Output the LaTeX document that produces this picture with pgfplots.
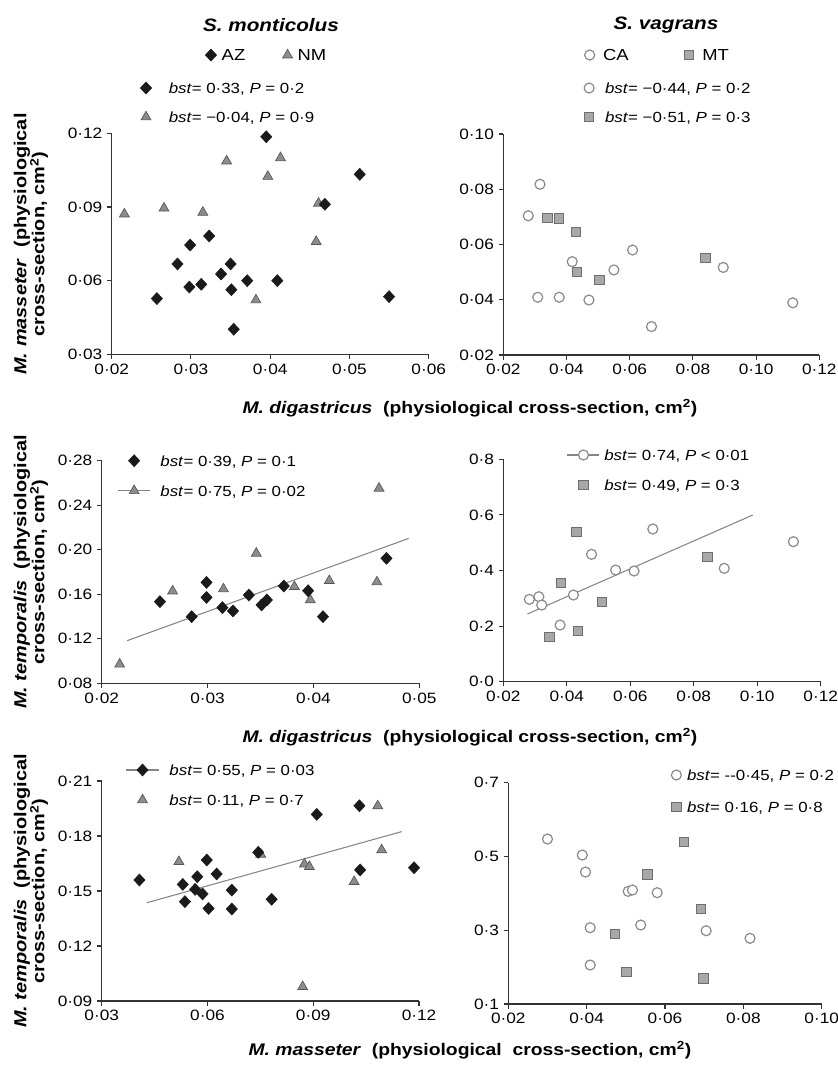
\documentclass[border=0pt]{standalone}
\usepackage{pgfplots}
\pgfplotsset{compat=1.18}
\usepackage{fontspec}
\setmainfont{Liberation Sans}[FakeStretch=1.15]

\definecolor{azc}{HTML}{1A1A1A}
\definecolor{nmfill}{HTML}{8C8C8C}
\definecolor{nmedge}{HTML}{555555}
\definecolor{caedge}{HTML}{8A8A8A}
\definecolor{mtfill}{HTML}{A8A8A8}
\definecolor{mtedge}{HTML}{6E6E6E}
\definecolor{fitline}{HTML}{858585}

\def\legL{12pt}
\pgfplotsset{
  panel/.style={
    scale only axis, anchor=south west,
    axis x line=bottom, axis y line=left,
    axis line style={-, black!80, line width=0.8pt},
    tick align=outside, major tick length=3.5pt,
    tick style={black!80, line width=0.8pt},
    scaled ticks=false,
    /pgf/number format/fixed, /pgf/number format/fixed zerofill,
    /pgf/number format/precision=2,
    /pgf/number format/set decimal separator={·},
    /pgf/number format/assume math mode=true,
    tick label style={font=\fontsize{11.25}{13}\selectfont},
    clip=false,
    legend cell align=left,
    legend style={draw=none, fill=none, inner sep=0pt,
      font=\fontsize{11}{13}\selectfont,
      nodes={inner xsep=0pt, inner ysep=1.5pt, text height=8pt, text depth=0pt}},
    legend image code/.code={\draw[mark repeat=2,mark phase=2,##1]
      plot coordinates {(-\legL,0pt)(0pt,0pt)(\legL,0pt)};},
  },
  az/.style={only marks, mark=diamond*, mark size=4.5pt,
    mark options={fill=azc, draw=azc, line width=0.4pt, xscale=1.25}},
  nm/.style={only marks, mark=triangle*, mark size=4.3pt,
    mark options={fill=nmfill, draw=nmedge, line width=0.5pt}},
  ca/.style={only marks, mark=*, mark size=3.75pt,
    mark options={fill=white, draw=caedge, line width=0.9pt}},
  mt/.style={only marks, mark=square*, mark size=3.5pt,
    mark options={fill=mtfill, draw=mtedge, line width=0.7pt}},
  fit/.style={fitline, line width=0.8pt, no marks},
}

\begin{document}
\begin{tikzpicture}
\path[use as bounding box] (0,0) rectangle (628.5pt,-798.75pt);

% ---------- top left: masseter vs digastricus, S. monticolus
\begin{axis}[panel, at={(83.78pt,-265.73pt)}, width=237.75pt, height=165.75pt,
  xmin=0.02, xmax=0.06, ymin=0.03, ymax=0.12,
  xtick={0.02,0.03,0.04,0.05,0.06}, ytick={0.03,0.06,0.09,0.12},
  legend style={at={(0.0896,1.1394)}, anchor=west, row sep=10.75pt, column sep=12.85pt}]
\addlegendimage{az}\addlegendentry{\textit{bst}= 0·33, \textit{P} = 0·2}
\addlegendimage{nm}\addlegendentry{\textit{bst}= −0·04, \textit{P} = 0·9}
\addplot[nm] coordinates {
(0.0216,0.0871) (0.0266,0.0895) (0.0315,0.0878) (0.0345,0.1087) (0.0397,0.1024)
(0.0413,0.1100) (0.0461,0.0915) (0.0458,0.0759) (0.0382,0.0521)};
\addplot[az] coordinates {
(0.0395,0.1186) (0.0513,0.1033) (0.0469,0.0911) (0.0323,0.0782) (0.0299,0.0745)
(0.0283,0.0668) (0.0350,0.0668) (0.0338,0.0627) (0.0371,0.0600) (0.0409,0.0600)
(0.0313,0.0585) (0.0298,0.0574) (0.0351,0.0563) (0.0257,0.0527) (0.0550,0.0535)
(0.0354,0.0402)};
\end{axis}
\begin{axis}[panel, hide axis, at={(83.78pt,-265.73pt)}, width=237.75pt, height=165.75pt,
  xmin=0, xmax=1, ymin=0, ymax=1, legend columns=2,
  legend style={at={(0.2946,1.354)}, anchor=west, column sep=3.85pt,
    font=\fontsize{12}{14}\selectfont,
    /tikz/every even column/.append style={column sep=28pt}}]
\addlegendimage{az}\addlegendentry{AZ}
\addlegendimage{nm}\addlegendentry{NM}
\end{axis}

% ---------- top right: masseter vs digastricus, S. vagrans
\begin{axis}[panel, at={(377.48pt,-266.25pt)}, width=237pt, height=165.75pt,
  xmin=0.02, xmax=0.12, ymin=0.02, ymax=0.10,
  xtick={0.02,0.04,0.06,0.08,0.10,0.12}, ytick={0.02,0.04,0.06,0.08,0.10},
  legend style={at={(0.255,1.1425)}, anchor=west, row sep=10.75pt, column sep=8.2pt}]
\addlegendimage{ca}\addlegendentry{\textit{bst}= −0·44, \textit{P} = 0·2}
\addlegendimage{mt}\addlegendentry{\textit{bst}= −0·51, \textit{P} = 0·3}
\addplot[ca] coordinates {
(0.0316,0.0818) (0.0279,0.0704) (0.0418,0.0538) (0.0609,0.0580) (0.0550,0.0508)
(0.0309,0.0409) (0.0377,0.0409) (0.0471,0.0399) (0.0669,0.0303) (0.0896,0.0517)
(0.1116,0.0389)};
\addplot[mt] coordinates {
(0.0340,0.0695) (0.0377,0.0694) (0.0429,0.0645) (0.0433,0.0500) (0.0504,0.0471)
(0.0840,0.0552)};
\end{axis}
\begin{axis}[panel, hide axis, at={(377.48pt,-266.25pt)}, width=237pt, height=165.75pt,
  xmin=0, xmax=1, ymin=0, ymax=1, legend columns=2,
  legend style={at={(0.2566,1.3575)}, anchor=west, column sep=6.3pt,
    font=\fontsize{12}{14}\selectfont,
    /tikz/every even column/.append style={column sep=42pt}}]
\addlegendimage{ca}\addlegendentry{CA}
\addlegendimage{mt}\addlegendentry{MT}
\end{axis}

% ---------- middle left: temporalis vs digastricus, S. monticolus
\def\legL{11.9pt}
\begin{axis}[panel, at={(76.28pt,-512.48pt)}, width=238.2pt, height=166.95pt,
  xmin=0.02, xmax=0.05, ymin=0.08, ymax=0.28,
  xtick={0.02,0.03,0.04,0.05}, ytick={0.08,0.12,0.16,0.20,0.24,0.28},
  legend style={at={(0.0497,0.9326)}, anchor=west, row sep=11.5pt, column sep=7.4pt}]
\addlegendimage{az}\addlegendentry{\textit{bst}= 0·39, \textit{P} = 0·1}
\addlegendimage{fitline, line width=0.8pt, mark=triangle*, mark size=4.3pt,
  mark options={fill=nmfill, draw=nmedge, line width=0.5pt}}
\addlegendentry{\textit{bst}= 0·75, \textit{P} = 0·02}
\addplot[fit] coordinates {(0.0224,0.1183) (0.0490,0.2102)};
\addplot[nm] coordinates {
(0.0217,0.0971) (0.0267,0.1629) (0.0315,0.1647) (0.0346,0.1968) (0.0382,0.1668)
(0.0397,0.1549) (0.0415,0.1722) (0.0460,0.1710) (0.0462,0.2552)};
\addplot[az] coordinates {
(0.0255,0.1534) (0.0285,0.1399) (0.0299,0.1707) (0.0299,0.1572) (0.0314,0.1480)
(0.0324,0.1450) (0.0339,0.1593) (0.0351,0.1504) (0.0356,0.1549) (0.0372,0.1674)
(0.0395,0.1632) (0.0409,0.1399) (0.0469,0.1923)};
\end{axis}

% ---------- middle right: temporalis vs digastricus, S. vagrans
\def\legL{12pt}
\begin{axis}[panel, at={(377.48pt,-511.28pt)}, width=238.05pt, height=166.8pt,
  xmin=0.02, xmax=0.12, ymin=0, ymax=0.8,
  xtick={0.02,0.04,0.06,0.08,0.10,0.12}, ytick={0,0.2,0.4,0.6,0.8},
  yticklabel style={/pgf/number format/precision=1},
  legend style={at={(0.1997,0.952)}, anchor=west, row sep=11.5pt, column sep=3.2pt}]
\addlegendimage{fitline, line width=0.8pt, mark=*, mark size=3.75pt,
  mark options={fill=white, draw=caedge, line width=0.9pt}}
\addlegendentry{\textit{bst}= 0·74, \textit{P} < 0·01}
\addlegendimage{mt}\addlegendentry{\textit{bst}= 0·49, \textit{P} = 0·3}
\addplot[fit] coordinates {(0.0276,0.2435) (0.0986,0.5997)};
\addplot[ca] coordinates {
(0.0282,0.2963) (0.0312,0.3058) (0.0321,0.2758) (0.0379,0.2039) (0.0421,0.3118)
(0.0478,0.4582) (0.0554,0.4018) (0.0612,0.3982) (0.0671,0.5493) (0.0896,0.4078)
(0.1114,0.5037)};
\addplot[mt] coordinates {
(0.0345,0.1619) (0.0382,0.3562) (0.0431,0.5397) (0.0436,0.1835) (0.0510,0.2879)
(0.0843,0.4498)};
\end{axis}

% ---------- bottom left: temporalis vs masseter, S. monticolus
\def\legL{12.4pt}
\begin{axis}[panel, at={(76.28pt,-750.75pt)}, width=237.98pt, height=165pt,
  xmin=0.03, xmax=0.12, ymin=0.09, ymax=0.21,
  xtick={0.03,0.06,0.09,0.12}, ytick={0.09,0.12,0.15,0.18,0.21},
  legend style={at={(0.074,0.982)}, anchor=west, row sep=11.5pt, column sep=7.4pt}]
\addlegendimage{fitline, line width=0.8pt, mark=diamond*, mark size=4.5pt,
  mark options={fill=azc, draw=azc, line width=0.4pt, xscale=1.25}}
\addlegendentry{\textit{bst}= 0·55, \textit{P} = 0·03}
\addlegendimage{nm}\addlegendentry{\textit{bst}= 0·11, \textit{P} = 0·7}
\addplot[fit] coordinates {(0.0428,0.1436) (0.1151,0.1824)};
\addplot[nm] coordinates {
(0.0519,0.1660) (0.0751,0.1700) (0.0875,0.1647) (0.0889,0.1633) (0.0870,0.0978)
(0.1016,0.1551) (0.1083,0.1964) (0.1094,0.1724)};
\addplot[az] coordinates {
(0.0407,0.1560) (0.0530,0.1536) (0.0536,0.1442) (0.0565,0.1509) (0.0571,0.1578)
(0.0586,0.1484) (0.0598,0.1669) (0.0603,0.1405) (0.0626,0.1593) (0.0669,0.1505)
(0.0669,0.1402) (0.0744,0.1711) (0.0782,0.1455) (0.0910,0.1918) (0.1031,0.1965)
(0.1033,0.1615) (0.1186,0.1627)};
\end{axis}

% ---------- bottom right: temporalis vs masseter, S. vagrans
\def\legL{12pt}
\begin{axis}[panel, at={(381.23pt,-753pt)}, width=235.05pt, height=165.98pt,
  xmin=0.02, xmax=0.10, ymin=0.1, ymax=0.7,
  xtick={0.02,0.04,0.06,0.08,0.10}, ytick={0.1,0.3,0.5,0.7},
  yticklabel style={/pgf/number format/precision=1},
  legend style={at={(0.5195,0.9625)}, anchor=west, row sep=13pt, column sep=4.3pt}]
\addlegendimage{ca}\addlegendentry{\textit{bst}= {-}{-}0·45, \textit{P} = 0·2}
\addlegendimage{mt}\addlegendentry{\textit{bst}= 0·16, \textit{P} = 0·8}
\addplot[ca] coordinates {
(0.0300,0.5473) (0.0389,0.5039) (0.0397,0.4578) (0.0506,0.4054) (0.0517,0.4090)
(0.0580,0.4018) (0.0409,0.3069) (0.0538,0.3141) (0.0705,0.2987) (0.0817,0.2780)
(0.0409,0.2057)};
\addplot[mt] coordinates {
(0.0649,0.5400) (0.0555,0.4515) (0.0691,0.3575) (0.0472,0.2897) (0.0502,0.1876)
(0.0698,0.1695)};
\end{axis}

% ---------- titles and shared labels (positions in source pixels)
\begin{scope}[x=0.75pt, y=-0.75pt]
\node[font=\fontsize{13.5}{16}\selectfont\bfseries\itshape] at (271,25) {S. monticolus};
\node[font=\fontsize{13.5}{16}\selectfont\bfseries\itshape] at (666,25) {S. vagrans};
\tikzset{ylab/.style={rotate=90, align=center, inner sep=0pt,
  font=\fontsize{13}{13.5}\selectfont\bfseries}}
\node[ylab] at (31,244) {\textit{M. masseter}\ \ (physiological\\cross-section, cm\textsuperscript{2})};
\node[ylab] at (31,572) {\textit{M. temporalis}\ \ (physiological\\cross-section, cm\textsuperscript{2})};
\node[ylab] at (31,891) {\textit{M. temporalis}\ \ (physiological\\cross-section, cm\textsuperscript{2})};
\tikzset{xlab/.style={inner sep=0pt, font=\fontsize{12.6}{15}\selectfont\bfseries}}
\node[xlab] at (470,408) {\textit{M. digastricus}\ \ (physiological cross-section, cm\textsuperscript{2})};
\node[xlab] at (470,737) {\textit{M. digastricus}\ \ (physiological cross-section, cm\textsuperscript{2})};
\node[xlab] at (470,1050) {\textit{M. masseter}\ \ (physiological\ \ cross-section, cm\textsuperscript{2})};
\end{scope}
\end{tikzpicture}
\end{document}
